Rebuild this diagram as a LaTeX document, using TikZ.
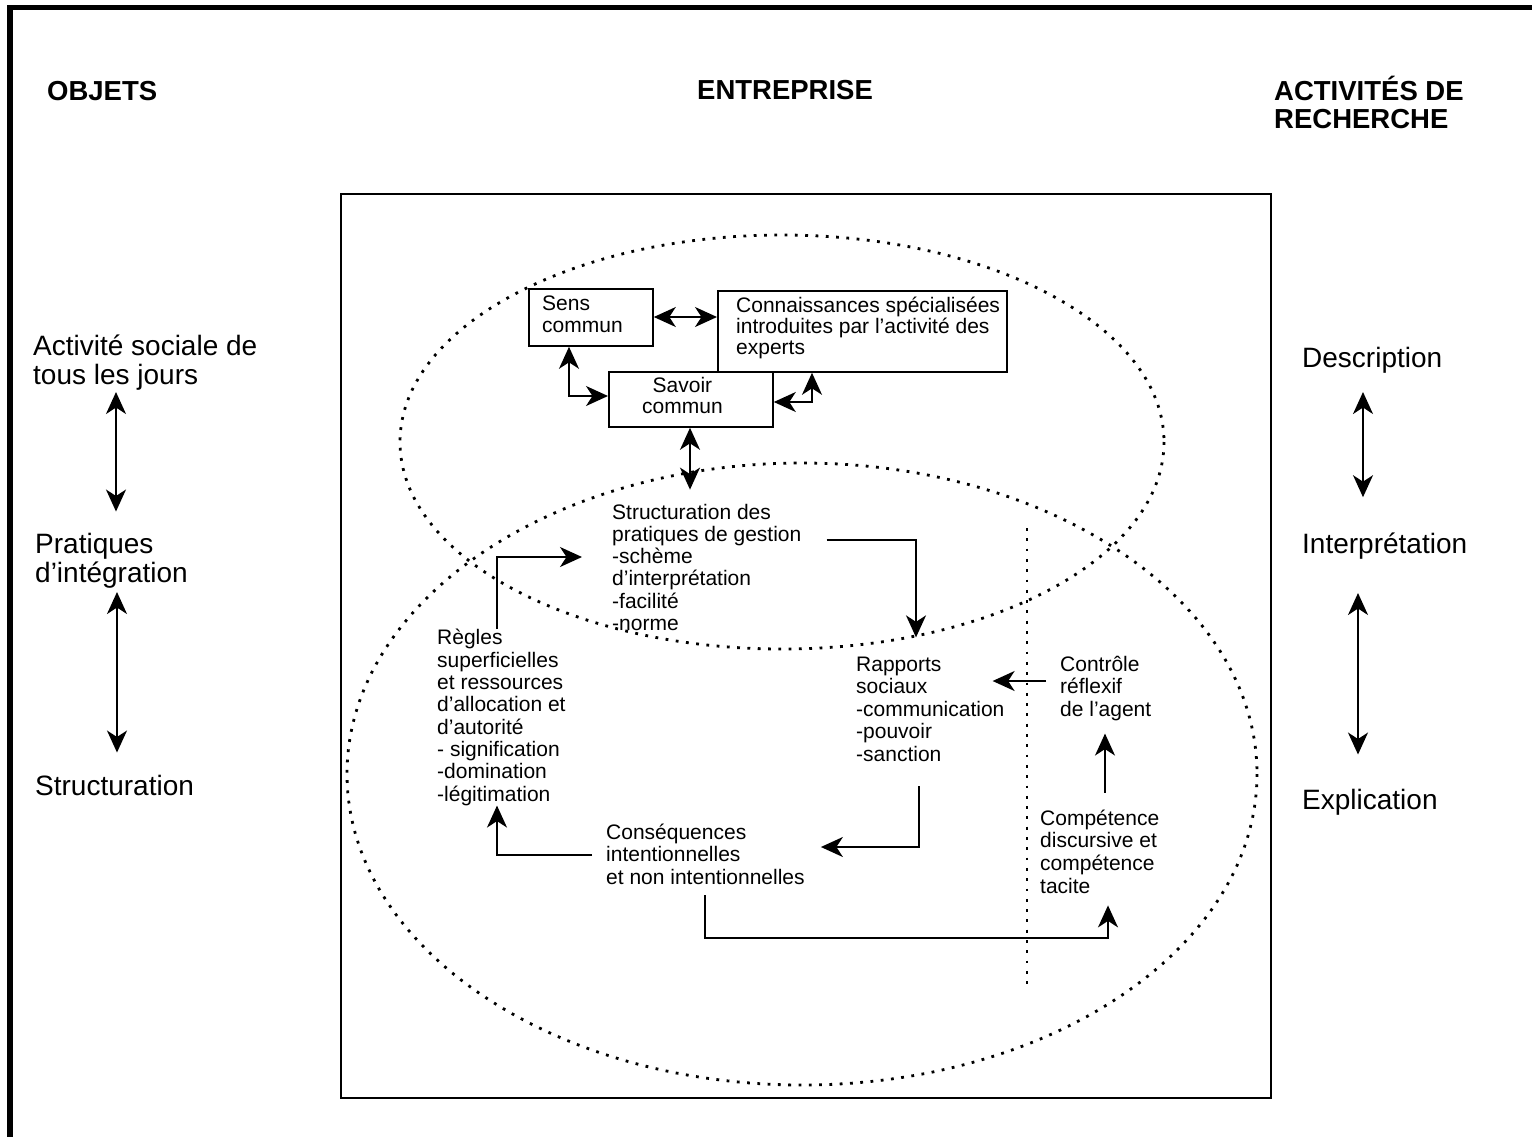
\documentclass[tikz,border=0pt]{standalone}
\usepackage{fontspec}
\setmainfont{Liberation Sans}
\usetikzlibrary{arrows.meta}
\begin{document}
\begin{tikzpicture}[x=1pt,y=-1pt,
  tip/.tip={Stealth[length=22pt,width=20pt,inset=6.5pt]},
  conn/.style={line width=1.8pt,-tip},
  dconn/.style={line width=1.8pt,tip-tip},
  dots/.style={line width=2.8pt,dash pattern=on 2.8pt off 7.5pt},
  head/.style={font=\fontsize{27.5}{28}\selectfont\bfseries,anchor=base west,inner sep=0pt,align=left},
  side/.style={font=\fontsize{28}{29}\selectfont,anchor=base west,inner sep=0pt,align=left},
  txt/.style={font=\fontsize{21}{22.3}\selectfont,anchor=base west,inner sep=0pt,align=left},
  box/.style={draw,line width=1.8pt,anchor=north west,inner sep=0pt},
]
\useasboundingbox (0,0) rectangle (1532,1136);
% outer frame
\draw[line width=5.5pt] (10,1150) -- (10,7.5) -- (1545,7.5);
% inner frame
\draw[line width=1.8pt] (341,194) rectangle (1271,1098);
% dotted ellipses and line
\draw[dots] (782,442) ellipse [x radius=382,y radius=207];
\draw[dots] (802,774) ellipse [x radius=455,y radius=311];
\draw[dots] (1027,528) -- (1027,985);

% headers (anchor = baseline of the last line)
\node[head] (objets) at (47,100) {OBJETS};
\node[head] (entreprise) at (697,99) {ENTREPRISE};
\node[head] (activites) at (1274,128) {ACTIVITÉS DE\\RECHERCHE};

% left column
\node[side] (quotid) at (33,384) {Activité sociale de\\tous les jours};
\node[side] (pratiques) at (35,582) {Pratiques\\d’intégration};
\node[side] (structL) at (35,795) {Structuration};
\draw[dconn,shorten <=2pt,shorten >=21pt] (quotid.south -| 116,0) -- (pratiques.north -| 116,0);
\draw[dconn,shorten <=4pt,shorten >=22pt] (pratiques.south -| 117,0) -- (structL.north -| 117,0);

% right column
\node[side] (descr) at (1302,367) {Description};
\node[side] (interp) at (1302,553) {Interprétation};
\node[side] (explic) at (1302,809) {Explication};
\draw[dconn,shorten <=19pt,shorten >=35pt] (descr.south -| 1363,0) -- (interp.north -| 1363,0);
\draw[dconn,shorten <=34pt,shorten >=34pt] (interp.south -| 1358,0) -- (explic.north -| 1358,0);

% boxes
\node[box,minimum width=124pt,minimum height=57pt] (sens) at (528,288) {};
\node[txt,font=\fontsize{21}{22}\selectfont] (sensT) at (542,332) {Sens\\commun};
\node[box,minimum width=289pt,minimum height=81pt] (conn) at (717,290) {};
\node[txt,font=\fontsize{21}{21}\selectfont] (connT) at (736,354) {Connaissances spécialisées\\introduites par l’activité des\\experts};
\node[box,minimum width=164pt,minimum height=55pt] (savoir) at (608,371) {};
\node[txt,align=center,font=\fontsize{21}{21}\selectfont] (savoirT) at (642,413) {Savoir\\commun};

\draw[dconn] (sens.east |- 0,317) -- (conn.west |- 0,317);
\draw[dconn] (sens.south -| 569,0) |- (savoir.west |- 0,396);
\draw[dconn] (savoir.east |- 0,402) -| (conn.south -| 812,0);

% lower texts
\node[txt] (struct) at (612,630.5) {Structuration des\\pratiques de gestion\\-schème\\d’interprétation\\-facilité\\-norme};
\node[txt] (regles) at (437,801) {Règles\\superficielles\\et ressources\\d’allocation et\\d’autorité\\- signification\\-domination\\-légitimation};
\node[txt,font=\fontsize{21}{22.5}\selectfont] (rapports) at (856,761) {Rapports\\sociaux\\-communication\\-pouvoir\\-sanction};
\node[txt,font=\fontsize{21}{22.5}\selectfont] (controle) at (1060,716) {Contrôle\\réflexif\\de l’agent};
\node[txt,font=\fontsize{21}{22.6}\selectfont] (compet) at (1040,893) {Compétence\\discursive et\\compétence\\tacite};
\node[txt,font=\fontsize{21}{22.5}\selectfont] (conseq) at (606,884) {Conséquences\\intentionnelles\\et non intentionnelles};

\draw[dconn,shorten >=14pt] (savoir.south -| 690,0) -- (struct.north -| 690,0);
\draw[conn,shorten >=30pt] (regles.north -| 497,0) |- (struct.west |- 0,557);
\draw[conn,shorten <=25pt,shorten >=19pt] (struct.east |- 0,540) -| (rapports.north -| 916,0);
\draw[conn,shorten <=14pt,shorten >=-12pt] (controle.west |- 0,681) -- (rapports.east |- 0,681);
\draw[conn,shorten <=17pt,shorten >=13pt] (compet.north -| 1105,0) -- (controle.south -| 1105,0);
\draw[conn,shorten <=25pt,shorten >=16pt] (rapports.south -| 919,0) |- (conseq.east |- 0,847);
\draw[conn,shorten <=14pt] (conseq.west |- 0,855) -| (regles.south -| 497,0);
\draw[conn,shorten <=11pt,shorten >=12pt] (conseq.south -| 705,0) -- (705,938) -| (compet.south -| 1108,0);
\end{tikzpicture}
\end{document}
